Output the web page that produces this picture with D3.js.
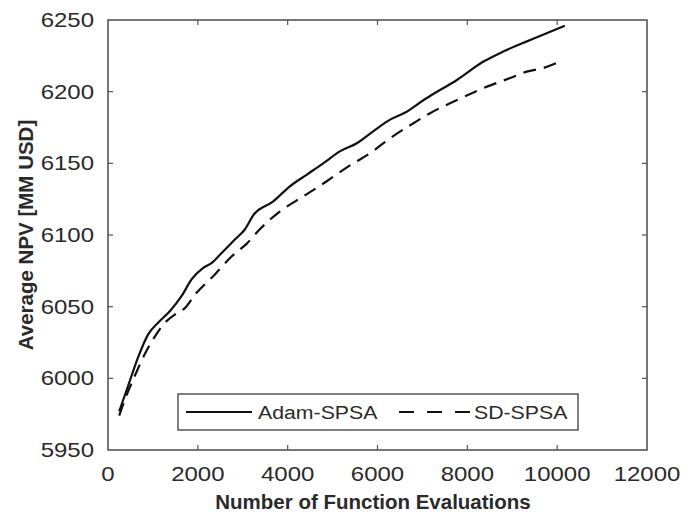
<!DOCTYPE html>
<html lang="en">
<head>
<meta charset="utf-8">
<title>Average NPV vs function evaluations</title>
<style>
  body { margin: 0; background: #fff; }
  text { font-family: "Liberation Sans", Arial, sans-serif; }
</style>
</head>
<body>
<div id="chart"></div>
<script src="https://d3js.org/d3.v7.min.js"></script>
<script>
// data
const adamEvals = [250, 450, 680, 900, 1120, 1380, 1640, 1860, 2120, 2310, 2530, 2830, 3050, 3240, 3680, 4050, 4420, 4790, 5170, 5540, 5910, 6280, 6650, 7020, 7170, 7760, 8360, 8800, 9400, 10170];
const adamNpv   = [5977, 5995, 6015.5, 6031, 6039, 6047, 6057.5, 6069, 6077, 6080.5, 6087.5, 6097, 6104, 6114, 6123.5, 6134, 6142, 6150, 6158.5, 6164, 6172.5, 6180.5, 6186, 6194, 6197, 6208, 6221, 6228, 6236, 6246];
const sdEvals = [250, 380, 600, 820, 1050, 1230, 1490, 1710, 1940, 2380, 2750, 3090, 3380, 3830, 4350, 4870, 5310, 5830, 6350, 6800, 7170, 7760, 8360, 8950, 9320, 9690, 10060];
const sdNpv   = [5974, 5985.5, 6002, 6017, 6029.5, 6037.5, 6044.5, 6049, 6058.5, 6072.5, 6085, 6094, 6104, 6116.5, 6127, 6137.5, 6147, 6157, 6169, 6178, 6185, 6194, 6202.5, 6209.5, 6214, 6216.5, 6221];
const xTicks = [0, 2000, 4000, 6000, 8000, 10000, 12000];
const yTicks = [5950, 6000, 6050, 6100, 6150, 6200, 6250];
const seriesNames = ["Adam-SPSA", "SD-SPSA"];

const W = 690, H = 519;
const plotL = 108, plotR = 647, plotT = 20, plotB = 450;
const axisColor = "#555";

const svg = d3.select("#chart").append("svg")
    .attr("width", W)
    .attr("height", H);

const x = d3.scaleLinear().domain([0, 12000]).range([plotL, plotR]);
const y = d3.scaleLinear().domain([5950, 6250]).range([plotB, plotT]);

// frame
svg.append("rect")
    .attr("x", plotL).attr("y", plotT)
    .attr("width", plotR - plotL).attr("height", plotB - plotT)
    .attr("fill", "none")
    .attr("stroke", axisColor)
    .attr("stroke-width", 1.6);

// inward ticks on all four sides
const inner = 5;
const tickG = svg.append("g").attr("stroke", axisColor).attr("stroke-width", 1.2);
xTicks.slice(1, -1).forEach(v => {
    tickG.append("line").attr("x1", x(v)).attr("x2", x(v)).attr("y1", plotB).attr("y2", plotB - inner);
    tickG.append("line").attr("x1", x(v)).attr("x2", x(v)).attr("y1", plotT).attr("y2", plotT + inner);
});
yTicks.slice(1, -1).forEach(v => {
    tickG.append("line").attr("y1", y(v)).attr("y2", y(v)).attr("x1", plotL).attr("x2", plotL + inner);
    tickG.append("line").attr("y1", y(v)).attr("y2", y(v)).attr("x1", plotR).attr("x2", plotR - inner);
});

// tick labels (slightly wide lettering in the source)
const stretch = 1.2;
svg.append("g").selectAll("text")
    .data(xTicks)
    .join("text")
    .attr("transform", d => `translate(${x(d)},481) scale(${stretch},1)`)
    .attr("text-anchor", "middle")
    .attr("font-size", 20)
    .attr("fill", "#2a2a2a")
    .text(d => d);

svg.append("g").selectAll("text")
    .data(yTicks)
    .join("text")
    .attr("transform", d => `translate(94,${y(d) + 7}) scale(${stretch},1)`)
    .attr("text-anchor", "end")
    .attr("font-size", 20)
    .attr("fill", "#2a2a2a")
    .text(d => d);

// axis titles
svg.append("text")
    .attr("x", 373).attr("y", 509)
    .attr("text-anchor", "middle")
    .attr("font-size", 20.5)
    .attr("font-weight", "bold")
    .attr("fill", "#2a2a2a")
    .text("Number of Function Evaluations");

svg.append("text")
    .attr("transform", `translate(33,${(plotT + plotB) / 2}) rotate(-90)`)
    .attr("text-anchor", "middle")
    .attr("font-size", 20.5)
    .attr("font-weight", "bold")
    .attr("fill", "#2a2a2a")
    .text("Average NPV [MM USD]");

// curves
const line = d3.line()
    .x(d => x(d[0]))
    .y(d => y(d[1]))
    .curve(d3.curveMonotoneX);

const adam = adamEvals.map((v, i) => [v, adamNpv[i]]);
const sd = sdEvals.map((v, i) => [v, sdNpv[i]]);

svg.append("path")
    .datum(sd)
    .attr("d", line)
    .attr("fill", "none")
    .attr("stroke", "#111")
    .attr("stroke-width", 2.2)
    .attr("stroke-dasharray", "13,8");

svg.append("path")
    .datum(adam)
    .attr("d", line)
    .attr("fill", "none")
    .attr("stroke", "#111")
    .attr("stroke-width", 2.2);

// legend
const lg = svg.append("g");
lg.append("rect")
    .attr("x", 178).attr("y", 394)
    .attr("width", 400).attr("height", 36)
    .attr("fill", "#fff")
    .attr("stroke", axisColor)
    .attr("stroke-width", 1.5);

lg.append("line")
    .attr("x1", 186).attr("x2", 252).attr("y1", 412).attr("y2", 412)
    .attr("stroke", "#111").attr("stroke-width", 2.2);
lg.append("line")
    .attr("x1", 399).attr("x2", 471).attr("y1", 412).attr("y2", 412)
    .attr("stroke", "#111").attr("stroke-width", 2.2)
    .attr("stroke-dasharray", "15,13");

lg.selectAll("text.lab")
    .data(seriesNames)
    .join("text")
    .attr("class", "lab")
    .attr("transform", (d, i) => `translate(${i === 0 ? 258 : 474},419) scale(1.12,1)`)
    .attr("font-size", 19)
    .attr("fill", "#2a2a2a")
    .text(d => d);
</script>
</body>
</html>
